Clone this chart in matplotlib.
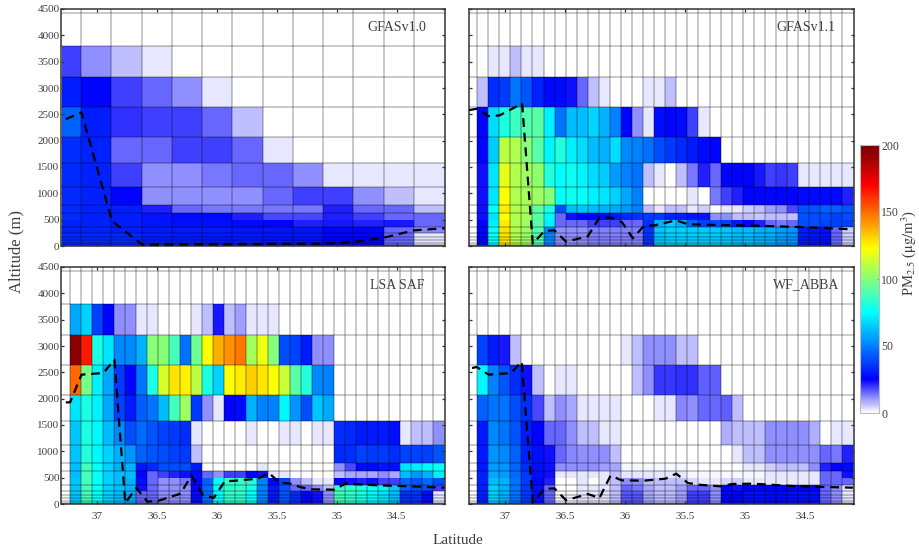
import numpy as np
import matplotlib
matplotlib.use("Agg")
import matplotlib.pyplot as plt
from matplotlib.colors import LinearSegmentedColormap

plt.rcParams["font.family"] = ["Liberation Serif", "DejaVu Serif"]
plt.rcParams["mathtext.fontset"] = "stix"

W, H = 919, 547
TXT = "#404040"

alt_edges = [0, 25, 57, 108, 171, 253, 361, 500, 627, 786, 1122, 1584, 2072, 2643, 3213, 3803, 4430, 4500]

# column edges, latitude (decreasing to the right)
lat_left = 37.30
lat_right = 34.095
coarse_first = 37.136
coarse_step = 0.2528
fine_first = 37.232
fine_step = 0.0921

# rows listed from top (3803-3213 m) down to bottom (25-0 m); the two rows above are empty
low_10 = [33, 33, 33, 31, 30, 30, 30, 29, 29, 26, 26, 15, 3]
gfas10 = [
    [19, 11, 7, 3, 0, 0, 0, 0, 0, 0, 0, 0, 0],
    [31, 26, 19, 15, 11, 3, 0, 0, 0, 0, 0, 0, 0],
    [44, 31, 21, 19, 19, 15, 7, 0, 0, 0, 0, 0, 0],
    [34, 32, 15, 15, 19, 19, 15, 3, 0, 0, 0, 0, 0],
    [33, 32, 19, 11, 11, 14, 15, 15, 11, 3, 3, 3, 3],
    [33, 32, 26, 11, 11, 11, 11, 15, 19, 19, 11, 7, 3],
    [33, 32, 31, 22, 15, 14, 14, 14, 14, 22, 15, 15, 7],
    [33, 32, 31, 29, 27, 27, 22, 18, 18, 22, 19, 15, 15],
    [32, 32, 31, 29, 28, 28, 27, 26, 22, 23, 22, 23, 15],
    [32, 32, 31, 30, 30, 30, 29, 29, 29, 26, 26, 15, 12],
    low_10, low_10, low_10, low_10, low_10,
]

low_11 = [0, 26, 76, 128, 108, 104, 90, 52, 11, 11, 11, 13, 13, 13, 13, 13, 35, 64, 66, 66, 66, 65, 65, 64, 62, 62, 60, 60, 56, 54, 30, 29, 28, 15, 5]
gfas11 = [
    [0, 0, 3, 3, 7, 3, 3, 0, 0, 0, 0, 0, 0, 0, 0, 0, 0, 0, 0, 0, 0, 0, 0, 0, 0, 0, 0, 0, 0, 0, 0, 0, 0, 0, 0],
    [0, 7, 34, 36, 48, 42, 32, 27, 27, 24, 15, 7, 3, 0, 0, 0, 3, 3, 7, 0, 0, 0, 0, 0, 0, 0, 0, 0, 0, 0, 0, 0, 0, 0, 0],
    [0, 26, 68, 80, 86, 90, 92, 72, 48, 62, 62, 67, 60, 50, 26, 11, 3, 28, 26, 27, 19, 3, 0, 0, 0, 0, 0, 0, 0, 0, 0, 0, 0, 0, 0],
    [0, 26, 65, 110, 108, 100, 92, 73, 82, 72, 68, 62, 60, 68, 52, 50, 47, 40, 36, 33, 30, 27, 26, 0, 0, 0, 0, 0, 0, 0, 0, 0, 0, 0, 0],
    [0, 24, 70, 118, 108, 105, 102, 82, 75, 78, 73, 68, 65, 56, 50, 48, 7, 3, 0, 7, 14, 22, 15, 26, 26, 26, 23, 19, 20, 19, 3, 3, 3, 3, 3],
    [0, 24, 70, 122, 108, 106, 104, 100, 76, 78, 76, 72, 70, 66, 58, 50, 0, 0, 0, 0, 3, 0, 14, 19, 22, 26, 26, 26, 26, 26, 27, 27, 27, 27, 22],
    [0, 24, 75, 126, 108, 106, 92, 80, 40, 62, 64, 62, 60, 58, 55, 50, 7, 3, 7, 7, 3, 5, 0, 3, 3, 5, 7, 10, 11, 18, 42, 42, 44, 44, 42],
    [0, 24, 70, 122, 108, 106, 92, 74, 15, 24, 26, 26, 27, 30, 33, 35, 36, 36, 32, 31, 29, 24, 11, 11, 7, 7, 6, 7, 7, 7, 42, 40, 40, 38, 40],
    [0, 26, 72, 126, 108, 104, 92, 72, 15, 15, 15, 19, 19, 19, 15, 15, 35, 60, 65, 60, 45, 38, 40, 38, 30, 26, 22, 15, 14, 15, 40, 40, 38, 38, 38],
    low_11, low_11, low_11, low_11, low_11, low_11,
]

low_lsa = [0, 64, 88, 76, 66, 62, 60, 15, 15, 11, 11, 11, 27, 46, 75, 85, 85, 76, 50, 30, 42, 34, 26, 24, 11, 88, 85, 80, 74, 70, 62, 35, 35, 27, 3]
lsa_saf = [
    [0, 58, 66, 38, 26, 11, 11, 3, 3, 0, 0, 0, 3, 7, 23, 7, 10, 3, 3, 3, 0, 0, 0, 0, 0, 0, 0, 0, 0, 0, 0, 0, 0, 0, 0],
    [0, 195, 165, 80, 70, 52, 52, 60, 100, 100, 88, 47, 96, 122, 138, 143, 148, 106, 120, 100, 40, 38, 30, 11, 11, 0, 0, 0, 0, 0, 0, 0, 0, 0, 0],
    [0, 150, 97, 72, 58, 36, 26, 48, 80, 115, 128, 125, 110, 80, 66, 122, 126, 132, 128, 122, 113, 92, 82, 52, 50, 0, 0, 0, 0, 0, 0, 0, 0, 0, 0],
    [0, 70, 80, 72, 58, 38, 30, 43, 48, 62, 88, 104, 36, 11, 3, 26, 27, 60, 50, 50, 74, 54, 40, 64, 58, 0, 0, 0, 0, 0, 0, 0, 0, 0, 0],
    [0, 64, 80, 74, 62, 52, 40, 46, 42, 38, 36, 34, 3, 0, 0, 0, 0, 3, 0, 0, 3, 3, 0, 3, 3, 34, 33, 30, 30, 30, 28, 3, 7, 7, 11],
    [0, 64, 82, 74, 66, 60, 54, 44, 42, 40, 38, 36, 7, 0, 0, 0, 0, 0, 0, 0, 0, 0, 0, 0, 0, 33, 34, 38, 36, 36, 34, 38, 38, 38, 42],
    [0, 62, 88, 76, 66, 60, 60, 29, 33, 40, 40, 40, 30, 0, 0, 0, 0, 0, 3, 0, 0, 0, 0, 0, 0, 11, 18, 27, 27, 29, 28, 70, 72, 74, 78],
    [0, 62, 88, 76, 66, 62, 62, 26, 15, 19, 22, 24, 27, 15, 11, 19, 19, 26, 24, 3, 3, 0, 0, 0, 0, 7, 9, 9, 9, 11, 9, 62, 54, 60, 72],
    [0, 64, 88, 76, 66, 62, 60, 28, 15, 11, 11, 14, 26, 44, 75, 85, 85, 82, 50, 26, 38, 11, 7, 3, 3, 26, 24, 22, 24, 19, 19, 44, 42, 46, 40],
    [0, 64, 88, 76, 66, 62, 60, 24, 15, 11, 11, 11, 26, 46, 75, 85, 85, 80, 50, 30, 42, 15, 15, 11, 7, 85, 85, 82, 78, 74, 64, 44, 40, 40, 19],
    low_lsa, low_lsa, low_lsa, low_lsa, low_lsa,
]

low_abba = [0, 32, 66, 60, 48, 36, 28, 15, 1, 1, 3, 3, 3, 7, 17, 17, 9, 7, 7, 10, 19, 19, 11, 26, 25, 28, 28, 27, 27, 28, 28, 28, 15, 11, 3]
wf_abba = [
    [0] * 35,
    [0, 38, 30, 23, 7, 0, 0, 0, 0, 0, 0, 0, 0, 0, 3, 7, 11, 11, 11, 7, 7, 0, 0, 0, 0, 0, 0, 0, 0, 0, 0, 0, 0, 0, 0],
    [0, 74, 50, 42, 34, 24, 7, 0, 3, 3, 0, 0, 0, 0, 0, 7, 11, 20, 20, 21, 21, 16, 16, 0, 0, 0, 0, 0, 0, 0, 0, 0, 0, 0, 0],
    [0, 44, 48, 48, 40, 34, 18, 7, 11, 9, 3, 3, 3, 3, 0, 0, 0, 3, 3, 12, 11, 15, 15, 16, 7, 0, 0, 0, 0, 0, 0, 0, 0, 0, 0],
    [0, 30, 52, 48, 42, 30, 26, 15, 15, 11, 7, 7, 3, 3, 0, 0, 0, 0, 0, 0, 0, 0, 0, 8, 7, 7, 7, 11, 11, 11, 11, 8, 0, 3, 3],
    [0, 30, 54, 52, 44, 32, 28, 24, 15, 12, 11, 11, 11, 7, 0, 0, 0, 0, 0, 0, 0, 0, 0, 0, 3, 7, 7, 11, 11, 11, 11, 11, 15, 14, 22],
    [0, 30, 56, 54, 45, 34, 28, 24, 11, 11, 11, 11, 10, 9, 1, 1, 1, 1, 1, 1, 0, 0, 0, 0, 0, 3, 3, 5, 7, 7, 7, 11, 22, 25, 27],
    [0, 32, 58, 56, 46, 36, 28, 24, 3, 3, 3, 3, 3, 7, 3, 3, 3, 3, 3, 3, 1, 1, 1, 1, 1, 1, 1, 3, 3, 3, 3, 3, 15, 15, 24],
    [0, 32, 62, 60, 48, 36, 26, 22, 0, 0, 3, 0, 3, 7, 11, 11, 7, 7, 7, 7, 4, 3, 3, 4, 5, 3, 3, 3, 3, 3, 3, 3, 15, 15, 15],
    [0, 32, 66, 60, 48, 36, 28, 15, 0, 0, 3, 3, 3, 7, 15, 14, 9, 7, 7, 10, 15, 15, 11, 26, 24, 26, 26, 26, 26, 26, 26, 26, 15, 11, 3],
    low_abba, low_abba, low_abba, low_abba, low_abba,
]

# dashed line: latitude, altitude
line_10_lat = [37.264, 37.133, 36.878, 36.625, 35.108, 34.856, 34.606, 34.353, 34.097]
line_10_alt = [2408, 2535, 475, 25, 44, 76, 158, 298, 336]
line_11_lat = [37.303, 37.236, 37.136, 37.047, 36.858, 36.769, 36.672, 36.589, 36.492, 36.311, 36.214, 36.122, 36.028, 35.936, 35.844, 35.753, 35.575, 35.478, 35.214, 34.936, 34.561, 34.103]
line_11_alt = [2580, 2605, 2465, 2478, 2706, 44, 285, 298, 82, 184, 539, 539, 456, 146, 380, 393, 488, 412, 399, 387, 361, 317]
line_lsa_lat = [37.264, 37.228, 37.133, 36.95, 36.858, 36.767, 36.675, 36.581, 36.489, 36.306, 36.214, 36.119, 36.028, 35.936, 35.844, 35.658, 35.567, 35.481, 35.389, 35.297, 35.206, 35.019, 34.928, 34.653, 34.375, 34.1]
line_lsa_alt = [1930, 1930, 2456, 2487, 2740, 19, 304, 44, 63, 196, 538, 177, 114, 430, 443, 481, 589, 411, 386, 316, 278, 272, 386, 354, 335, 310]
line_abba_lat = [37.275, 37.236, 37.136, 36.95, 36.861, 36.769, 36.672, 36.589, 36.492, 36.311, 36.214, 36.122, 36.028, 35.844, 35.664, 35.575, 35.478, 35.389, 35.206, 35.111, 34.936, 34.561, 34.103]
line_abba_alt = [2582, 2601, 2456, 2487, 2703, 32, 285, 297, 70, 190, 114, 538, 449, 443, 481, 576, 399, 367, 335, 380, 386, 335, 310]

lat_ticks = [37, 36.5, 36, 35.5, 35, 34.5]
alt_ticks = list(range(0, 4501, 500))
cbar_ticks = [0, 50, 100, 150, 200]

# white -> blue -> jet
cmap = LinearSegmentedColormap.from_list(
    "pm",
    [
        (0 / 200, (1, 1, 1)),
        (25 / 200, (0, 0, 1)),
        (75 / 200, (0, 1, 1)),
        (123 / 200, (1, 1, 0)),
        (170 / 200, (1, 0, 0)),
        (200 / 200, (0.45, 0, 0)),
    ],
    N=256,
)


def px_axes(fig, x0, y0, x1, y1):
    return fig.add_axes([x0 / W, 1 - y1 / H, (x1 - x0) / W, (y1 - y0) / H])


def panel(fig, box, rows, lat_edges, line_lat, line_alt, name, show_x, show_y):
    ax = px_axes(fig, *box)
    # rows come top-down, pcolormesh wants bottom-up; top two rows stay empty
    z = np.zeros((len(alt_edges) - 1, len(lat_edges) - 1))
    z[: len(rows)] = np.array(rows, dtype=float)[::-1]
    mesh = ax.pcolormesh(lat_edges, alt_edges, z, cmap=cmap, vmin=0, vmax=200, shading="flat")

    ax.set_xlim(lat_left, lat_right)
    ax.set_ylim(0, 4500)

    ax.set_xticks(lat_edges[1:-1], minor=True)
    ax.set_yticks(alt_edges[1:-1], minor=True)
    ax.grid(which="minor", color="black", alpha=0.27, lw=1.1)
    ax.tick_params(which="minor", length=0)
    ax.set_axisbelow(False)

    ax.plot(line_lat, line_alt, color="black", lw=1.6, dashes=(4, 2.6), zorder=5)

    ax.set_xticks(lat_ticks)
    ax.set_yticks(alt_ticks)
    ax.set_xticklabels([str(t) for t in lat_ticks] if show_x else [])
    ax.set_yticklabels([str(t) for t in alt_ticks] if show_y else [])
    ax.tick_params(which="major", direction="in", top=True, right=True, length=2.5, width=0.9,
                   color="#333333", labelsize=8, labelcolor=TXT)
    ax.tick_params(axis="x", which="major", pad=6)
    ax.tick_params(axis="y", which="major", pad=1.5)
    for s in ax.spines.values():
        s.set_color("#444444")
        s.set_linewidth(1.2)

    ax.text(34.497, 4158, name, ha="center", va="center", fontsize=10, color=TXT)
    return mesh


fig = plt.figure(figsize=(W / 100, H / 100), dpi=100)

coarse = [lat_left] + [coarse_first - coarse_step * i for i in range(12)] + [lat_right]
coarse = coarse[:13] + [lat_right]
fine = [lat_left] + [fine_first - fine_step * i for i in range(34)] + [lat_right]

panel(fig, (61.5, 9, 445, 246), gfas10, coarse, line_10_lat, line_10_alt, "GFASv1.0", False, True)
panel(fig, (469, 9, 854, 246), gfas11, fine, line_11_lat, line_11_alt, "GFASv1.1", False, False)
panel(fig, (61.5, 267, 445, 504), lsa_saf, fine, line_lsa_lat, line_lsa_alt, "LSA SAF", True, True)
mesh = panel(fig, (469, 267, 854, 504), wf_abba, fine, line_abba_lat, line_abba_alt, "WF_ABBA", True, False)

cax = px_axes(fig, 860, 145, 878.5, 413)
cb = fig.colorbar(mesh, cax=cax)
cb.set_ticks(cbar_ticks)
cax.tick_params(direction="in", length=1.5, width=0.5, color="#888888", labelsize=8.5, labelcolor=TXT, pad=2)
cb.outline.set_edgecolor("#bbbbbb")
cb.outline.set_linewidth(0.8)

fig.text(16 / W, 1 - 251 / H, "Altitude (m)", rotation=90, ha="center", va="center", fontsize=12, color=TXT)
fig.text(458 / W, 1 - 540 / H, "Latitude", ha="center", va="center", fontsize=11, color=TXT)
fig.text(909 / W, 1 - 253 / H, r"PM$_{2.5}$ ($\mathrm{\mu g/m^3}$)", rotation=90, ha="center", va="center",
         fontsize=10.5, color=TXT)

fig.savefig("out.png", dpi=100)
